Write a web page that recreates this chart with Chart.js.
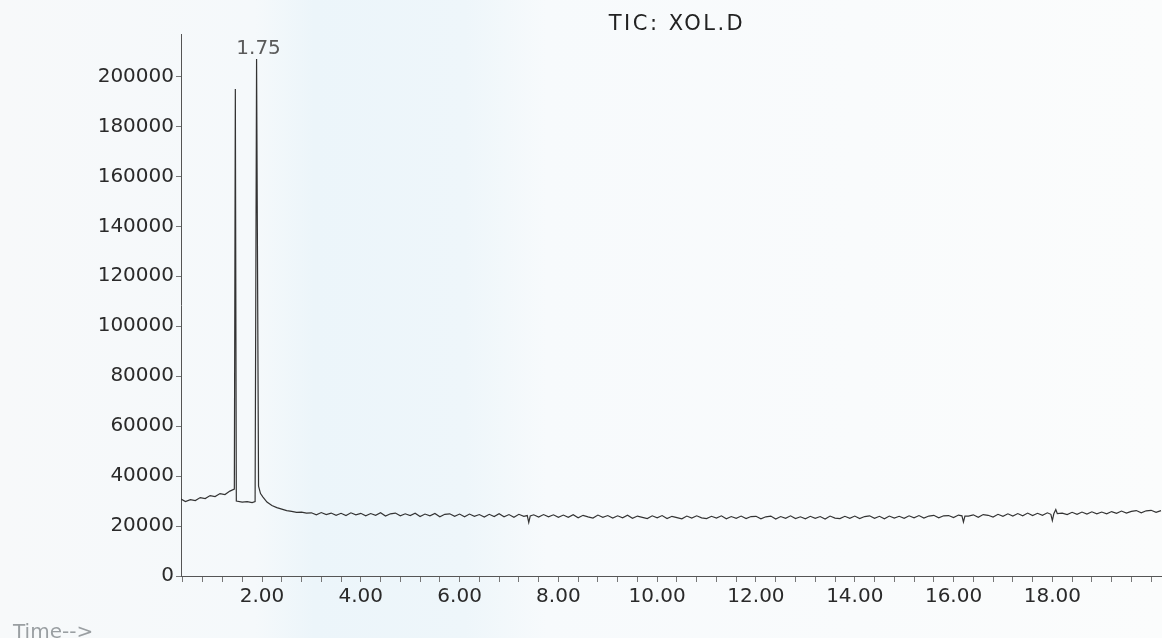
<!DOCTYPE html>
<html>
<head>
<meta charset="utf-8">
<title>TIC: XOL.D</title>
<script src="https://cdn.jsdelivr.net/npm/chart.js@4.4.1/dist/chart.umd.min.js"></script>
<style>
  html, body { margin: 0; padding: 0; background: #f8fafb; }
</style>
</head>
<body>
<canvas id="ticChart" width="1162" height="638"></canvas>
<script>
// Chromatogram readings (retention time in minutes, abundance)
const retentionTimes = [
  0.36, 0.45, 0.55, 0.65, 0.75, 0.85, 0.95, 1.05, 1.15, 1.25, 1.35, 1.44, 1.46, 1.48,
  1.60, 1.70, 1.80, 1.86, 1.89, 1.93, 1.97, 2.02, 2.10, 2.20, 2.30, 2.40, 2.50, 2.60, 2.70, 2.80, 2.90,
  3.0, 3.1, 3.2, 3.3, 3.4, 3.5, 3.6, 3.7, 3.8, 3.9,
  4.0, 4.1, 4.2, 4.3, 4.4, 4.5, 4.6, 4.7, 4.8, 4.9,
  5.0, 5.1, 5.2, 5.3, 5.4, 5.5, 5.6, 5.7, 5.8, 5.9,
  6.0, 6.1, 6.2, 6.3, 6.4, 6.5, 6.6, 6.7, 6.8, 6.9,
  7.0, 7.1, 7.2, 7.3, 7.37, 7.40, 7.43, 7.5, 7.6, 7.7, 7.8, 7.9,
  8.0, 8.1, 8.2, 8.3, 8.4, 8.5, 8.6, 8.7, 8.8, 8.9,
  9.0, 9.1, 9.2, 9.3, 9.4, 9.5, 9.6, 9.7, 9.8, 9.9,
  10.0, 10.1, 10.2, 10.3, 10.4, 10.5, 10.6, 10.7, 10.8, 10.9,
  11.0, 11.1, 11.2, 11.3, 11.4, 11.5, 11.6, 11.7, 11.8, 11.9,
  12.0, 12.1, 12.2, 12.3, 12.4, 12.5, 12.6, 12.7, 12.8, 12.9,
  13.0, 13.1, 13.2, 13.3, 13.4, 13.5, 13.6, 13.7, 13.8, 13.9,
  14.0, 14.1, 14.2, 14.3, 14.4, 14.5, 14.6, 14.7, 14.8, 14.9,
  15.0, 15.1, 15.2, 15.3, 15.4, 15.5, 15.6, 15.7, 15.8, 15.9,
  16.0, 16.1, 16.17, 16.20, 16.23, 16.3, 16.4, 16.5, 16.6, 16.7, 16.8, 16.9,
  17.0, 17.1, 17.2, 17.3, 17.4, 17.5, 17.6, 17.7, 17.8, 17.9,
  17.97, 18.0, 18.03, 18.07, 18.1, 18.2, 18.3, 18.4, 18.5, 18.6, 18.7, 18.8, 18.9,
  19.0, 19.1, 19.2, 19.3, 19.4, 19.5, 19.6, 19.7, 19.8, 19.9,
  20.0, 20.1, 20.2
];
const abundance = [
  30800, 29800, 30600, 30200, 31400, 31000, 32200, 31800, 33000, 32600, 34000, 34800, 195000, 30000,
  29600, 29800, 29400, 29800, 207000, 36000, 33000, 31600, 29600, 28200, 27400, 26800, 26200, 25900, 25500, 25600, 25200,
  25300, 24500, 25400, 24600, 25200, 24300, 25100, 24200, 25300, 24500,
  25100, 24100, 25000, 24300, 25300, 24000, 24900, 25200, 24100, 24900,
  24200, 25100, 23800, 24800, 24100, 25000, 23700, 24700, 24900, 23900,
  24800, 23700, 24800, 23900, 24600, 23600, 24700, 23800, 24900, 23700,
  24600, 23500, 24700, 23900, 24200, 21400, 24000, 24500, 23600, 24600, 23700, 24500,
  23500, 24400, 23500, 24500, 23300, 24300, 23700, 23200, 24400, 23500,
  24200, 23200, 24100, 23300, 24300, 23100, 24000, 23500, 23000, 24100,
  23300, 24200, 23000, 23900, 23400, 22900, 24000, 23200, 24100, 23300,
  23000, 23900, 23200, 24100, 22900, 23800, 23100, 24000, 23000, 23800,
  23900, 22900, 23700, 24000, 22800, 23800, 23100, 24100, 23000, 23700,
  22900, 23900, 23100, 23800, 22800, 24000, 23200, 23000, 23900, 23100,
  24000, 23000, 23800, 24100, 23100, 23900, 22900, 24000, 23200, 23900,
  23100, 24100, 23300, 24200, 23200, 24000, 24300, 23300, 24100, 24200,
  23400, 24400, 24100, 21600, 24000, 24000, 24500, 23500, 24600, 24300, 23600, 24700,
  23900, 24900, 24000, 25000, 24100, 25200, 24200, 25100, 24300, 25300,
  24700, 22200, 24900, 26600, 25000, 25200, 24600, 25500, 24700, 25600, 24800, 25700, 24900,
  25600, 24900, 25800, 25100, 26000, 25200, 25900, 26200, 25300, 26100,
  26300, 25500, 26200
];
const yTickValues = [0, 20000, 40000, 60000, 80000, 100000, 120000, 140000, 160000, 180000, 200000];
const xLabelTimes = [2, 4, 6, 8, 10, 12, 14, 16, 18];
const peakLabel = '1.75';
const xAxisName = 'Time-->';
const chartTitle = 'TIC: XOL.D';

const FONT = '"DejaVu Sans", "Liberation Sans", Arial, sans-serif';

// faint blue tint of the scanned paper
const scanBackground = {
  id: 'scanBackground',
  beforeDraw(chart) {
    const { ctx, width, height } = chart;
    const g = ctx.createLinearGradient(0, 0, width, 0);
    g.addColorStop(0, '#f7f9fa');
    g.addColorStop(0.22, '#f5f9fb');
    g.addColorStop(0.27, '#ecf5fa');
    g.addColorStop(0.40, '#eef6fa');
    g.addColorStop(0.47, '#f7fafc');
    g.addColorStop(1, '#fbfcfc');
    ctx.save();
    ctx.fillStyle = g;
    ctx.fillRect(0, 0, width, height);
    ctx.restore();
  }
};

// title, peak retention label and the "Time-->" caption
const chromText = {
  id: 'chromText',
  afterDatasetsDraw(chart) {
    const { ctx } = chart;
    ctx.save();
    ctx.textBaseline = 'alphabetic';

    ctx.font = '21px ' + FONT;
    ctx.fillStyle = '#222';
    ctx.textAlign = 'center';
    ctx.letterSpacing = '2.5px';
    ctx.fillText(chartTitle, 677, 30);
    ctx.letterSpacing = '0px';

    const top = abundance.indexOf(Math.max(...abundance));
    const pt = chart.getDatasetMeta(0).data[top];
    ctx.font = '20px ' + FONT;
    ctx.fillStyle = '#5a5a5a';
    ctx.fillText(peakLabel, pt.x + 2, pt.y - 5);

    ctx.fillStyle = '#9a9fa2';
    ctx.textAlign = 'left';
    ctx.fillText(xAxisName, 13, 638);
    ctx.restore();
  }
};

const ctx = document.getElementById('ticChart').getContext('2d');
const ticChart = new Chart(ctx, {
    type: 'line',
    data: {
        datasets: [{
            label: 'TIC',
            data: retentionTimes.map((t, i) => ({ x: t, y: abundance[i] })),
            borderColor: '#333',
            borderWidth: 1.2,
            pointRadius: 0,
            tension: 0,
            fill: false
        }]
    },
    options: {
        responsive: false,
        animation: false,
        layout: { padding: { top: 34 } },
        plugins: {
            legend: { display: false },
            tooltip: { enabled: false },
            title: { display: false }
        },
        scales: {
            x: {
                type: 'linear',
                min: 0.36,
                max: 20.22,
                afterBuildTicks: (scale) => {
                    const ticks = [];
                    for (let i = 1; i <= 50; i++) ticks.push({ value: Math.round(i * 4) / 10 });
                    scale.ticks = ticks;
                },
                afterFit: (scale) => { scale.height = 62; },
                ticks: {
                    autoSkip: false,
                    maxRotation: 0,
                    padding: 3,
                    color: '#2a2a2a',
                    font: { family: FONT, size: 20 },
                    callback: (v) => xLabelTimes.some(t => Math.abs(t - v) < 1e-6) ? v.toFixed(2) : ''
                },
                grid: { drawOnChartArea: false, drawTicks: true, tickLength: 6, color: '#777' },
                border: { display: true, color: '#555', width: 1 }
            },
            y: {
                min: 0,
                max: 217000,
                afterBuildTicks: (scale) => {
                    scale.ticks = yTickValues.map(v => ({ value: v }));
                },
                afterFit: (scale) => { scale.width = 181; },
                ticks: {
                    padding: 2,
                    color: '#2a2a2a',
                    font: { family: FONT, size: 20 },
                    callback: (v) => String(v)
                },
                grid: { drawOnChartArea: false, drawTicks: true, tickLength: 5, color: '#777' },
                border: { display: true, color: '#555', width: 1 }
            }
        }
    },
    plugins: [scanBackground, chromText]
});
</script>
</body>
</html>
